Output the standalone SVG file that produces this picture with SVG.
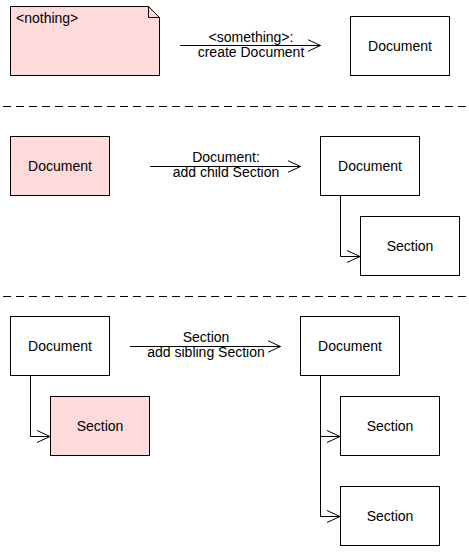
<svg xmlns="http://www.w3.org/2000/svg" width="469" height="553" viewBox="0 0 469 553">
<style>
.box{fill:#ffffff;stroke:#000000;stroke-width:1}
.pink{fill:#ffdada;stroke:#000000;stroke-width:1}
.edge{fill:none;stroke:#000000;stroke-width:1}
.sep{fill:none;stroke:#000000;stroke-width:1;stroke-dasharray:8 5}
text{font-family:"Liberation Sans",Arial,sans-serif;font-size:14px;fill:#000000}
.c{text-anchor:middle}
</style>
<defs>
<marker id="open" markerUnits="userSpaceOnUse" markerWidth="16" markerHeight="16" refX="13" refY="7" orient="auto" viewBox="0 0 16 14">
<polyline points="0,1 13,7 0,13" fill="none" stroke="#000000" stroke-width="1"/>
</marker>
</defs>
<rect width="469" height="553" fill="#ffffff"/>
<g id="separators">
<line class="sep" x1="3" y1="106.5" x2="466" y2="106.5"/>
<line class="sep" x1="3" y1="296.5" x2="466" y2="296.5"/>
</g>
<g id="connectors">
<line class="edge" x1="180" y1="45.5" x2="320.5" y2="45.5" marker-end="url(#open)"/>
<line class="edge" x1="150" y1="166.5" x2="300.5" y2="166.5" marker-end="url(#open)"/>
<line class="edge" x1="130" y1="346.5" x2="280.5" y2="346.5" marker-end="url(#open)"/>
<polyline class="edge" points="340.5,195.5 340.5,256.5 360,256.5" marker-end="url(#open)"/>
<polyline class="edge" points="30.5,375.5 30.5,436.5 50,436.5" marker-end="url(#open)"/>
<polyline class="edge" points="320.5,375.5 320.5,436.5 340,436.5" marker-end="url(#open)"/>
<polyline class="edge" points="320.5,436.5 320.5,516.5 340,516.5" marker-end="url(#open)"/>
<text class="c" x="251" y="41.5">&lt;something&gt;:</text>
<text class="c" x="251" y="57">create Document</text>
<text class="c" x="226" y="161.5">Document:</text>
<text class="c" x="226" y="177">add child Section</text>
<text class="c" x="206" y="341.5">Section</text>
<text class="c" x="206" y="357">add sibling Section</text>
</g>
<g id="note-nothing">
<path class="pink" d="M10.5,6.5 H148.5 L159.5,17.5 V75.5 H10.5 Z"/>
<polyline class="edge" points="148.5,6.5 148.5,17.5 159.5,17.5"/>
<text x="16" y="22.5">&lt;nothing&gt;</text>
</g>
<g id="doc1">
<rect class="box" x="350.5" y="16.5" width="99" height="59"/>
<text class="c" x="400" y="50.5">Document</text>
</g>
<g id="doc2-before">
<rect class="pink" x="10.5" y="136.5" width="99" height="59"/>
<text class="c" x="60" y="170.5">Document</text>
</g>
<g id="doc2-after">
<rect class="box" x="320.5" y="136.5" width="99" height="59"/>
<text class="c" x="370" y="170.5">Document</text>
</g>
<g id="section2">
<rect class="box" x="360.5" y="216.5" width="99" height="59"/>
<text class="c" x="410" y="250.5">Section</text>
</g>
<g id="doc3-before">
<rect class="box" x="10.5" y="316.5" width="99" height="59"/>
<text class="c" x="60" y="350.5">Document</text>
</g>
<g id="section3-before">
<rect class="pink" x="50.5" y="396.5" width="99" height="59"/>
<text class="c" x="100" y="430.5">Section</text>
</g>
<g id="doc3-after">
<rect class="box" x="300.5" y="316.5" width="99" height="59"/>
<text class="c" x="350" y="350.5">Document</text>
</g>
<g id="section3-a">
<rect class="box" x="340.5" y="396.5" width="99" height="59"/>
<text class="c" x="390" y="430.5">Section</text>
</g>
<g id="section3-b">
<rect class="box" x="340.5" y="486.5" width="99" height="59"/>
<text class="c" x="390" y="520.5">Section</text>
</g>
</svg>
